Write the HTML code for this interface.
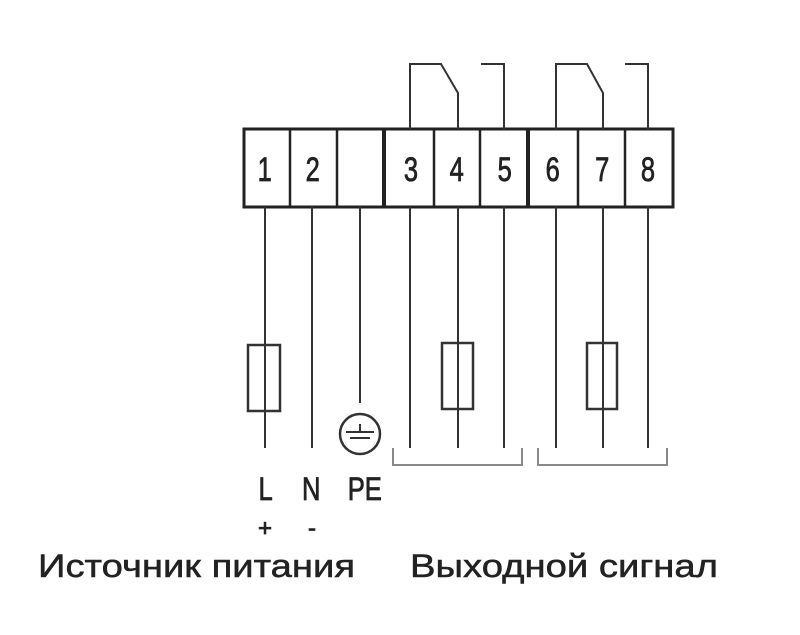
<!DOCTYPE html>
<html><head><meta charset="utf-8"><style>html,body{margin:0;padding:0;background:#fff}svg{display:block}</style></head>
<body>
<svg width="800" height="635" viewBox="0 0 800 635" xmlns="http://www.w3.org/2000/svg" font-family="Liberation Sans, sans-serif">
<g stroke="#222" fill="none" stroke-width="2.5">
<rect x="244" y="129" width="429" height="78" stroke-width="3"/>
<line x1="290" y1="129" x2="290" y2="207"/>
<line x1="337" y1="129" x2="337" y2="207"/>
<line x1="384" y1="129" x2="384" y2="207" stroke-width="4"/>
<line x1="434" y1="129" x2="434" y2="207"/>
<line x1="480" y1="129" x2="480" y2="207"/>
<line x1="528" y1="129" x2="528" y2="207" stroke-width="4"/>
<line x1="578" y1="129" x2="578" y2="207"/>
<line x1="625" y1="129" x2="625" y2="207"/>
</g>
<g stroke="#333" fill="none" stroke-width="2">
<polyline points="410,129 410,64 441,64 458,93 458,129"/>
<polyline points="481,64 504,64 504,129"/>
<polyline points="556,129 556,64 587,64 603,93 603,129"/>
<polyline points="625,64 648,64 648,129"/>
<line x1="265" y1="207" x2="265" y2="448"/>
<line x1="312" y1="207" x2="312" y2="448"/>
<line x1="360" y1="207" x2="360" y2="403"/>
<line x1="410" y1="207" x2="410" y2="448"/>
<line x1="458" y1="207" x2="458" y2="448"/>
<line x1="504" y1="207" x2="504" y2="448"/>
<line x1="556" y1="207" x2="556" y2="448"/>
<line x1="603" y1="207" x2="603" y2="448"/>
<line x1="648" y1="207" x2="648" y2="448"/>
<rect x="248" y="345" width="32" height="66" stroke-width="2.5"/>
<rect x="442" y="343" width="31" height="66" stroke-width="2.5"/>
<rect x="587" y="343" width="30" height="66" stroke-width="2.5"/>
<circle cx="360" cy="434" r="20" stroke-width="2.5"/>
<line x1="346" y1="432" x2="374" y2="432"/>
<line x1="350" y1="438" x2="370" y2="438"/>
<line x1="360" y1="424" x2="360" y2="432"/>
<polyline points="393,448 393,465 522,465 522,448" stroke="#888"/>
<polyline points="538,448 538,465 667,465 667,448" stroke="#888"/>
</g>
<g fill="#222" stroke="#222" stroke-width="0.8" font-size="34" text-anchor="middle">
<g transform="translate(0,181) scale(0.75,1)">
<text x="353" y="0">1</text><text x="417" y="0">2</text>
<text x="548" y="0">3</text><text x="609" y="0">4</text><text x="673" y="0">5</text>
<text x="737" y="0">6</text><text x="803" y="0">7</text><text x="864" y="0">8</text>
</g>
<g transform="translate(0,500) scale(0.8,1)" font-size="32">
<text x="332" y="0">L</text>
<text x="389" y="0">N</text>
<text x="456" y="0">PE</text>
</g>
<text x="265" y="536" font-size="24">+</text>
<text x="312" y="536" font-size="24">-</text>
</g>
<g fill="#222" stroke="#222" stroke-width="0.5" font-size="32">
<text x="38" y="577" textLength="317" lengthAdjust="spacingAndGlyphs">Источник питания</text>
<text x="410" y="577" textLength="308" lengthAdjust="spacingAndGlyphs">Выходной сигнал</text>
</g>
</svg>
</body></html>
